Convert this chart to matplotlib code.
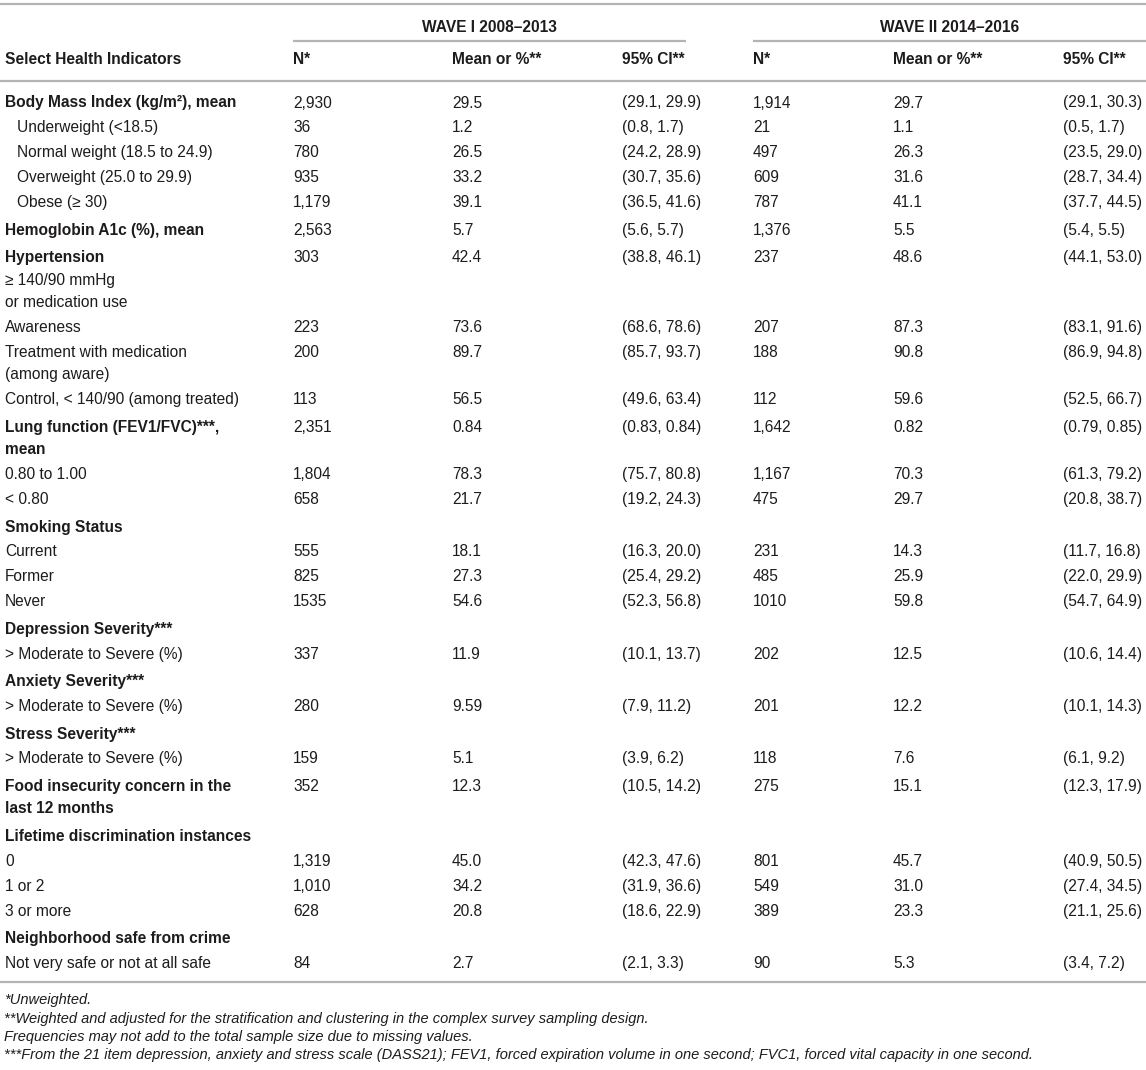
import matplotlib
matplotlib.use("Agg")
import matplotlib.pyplot as plt

plt.rcParams["font.family"] = ["Liberation Sans", "DejaVu Sans"]

# ---- data (one entry per printed line; "" = no value on that line) ----
labels = [
    "Body Mass Index (kg/m²), mean", "Underweight (<18.5)", "Normal weight (18.5 to 24.9)",
    "Overweight (25.0 to 29.9)", "Obese (≥ 30)", "Hemoglobin A1c (%), mean",
    "Hypertension", "≥ 140/90 mmHg", "or medication use", "Awareness",
    "Treatment with medication", "(among aware)", "Control, < 140/90 (among treated)",
    "Lung function (FEV1/FVC)***,", "mean", "0.80 to 1.00", "< 0.80",
    "Smoking Status", "Current", "Former", "Never",
    "Depression Severity***", "> Moderate to Severe (%)",
    "Anxiety Severity***", "> Moderate to Severe (%)",
    "Stress Severity***", "> Moderate to Severe (%)",
    "Food insecurity concern in the", "last 12 months",
    "Lifetime discrimination instances", "0", "1 or 2", "3 or more",
    "Neighborhood safe from crime", "Not very safe or not at all safe",
]
# h = bold group header, hc = bold continuation, s = indented sub item,
# p = plain item, c = plain continuation
kinds = ["h", "s", "s", "s", "s", "h", "h", "c", "c", "p", "p", "c", "p",
         "h", "hc", "p", "p", "h", "p", "p", "p", "h", "p", "h", "p", "h", "p",
         "h", "hc", "h", "p", "p", "p", "h", "p"]

n1 = ["2,930", "36", "780", "935", "1,179", "2,563", "303", "", "", "223", "200", "", "113",
      "2,351", "", "1,804", "658", "", "555", "825", "1535", "", "337", "", "280", "", "159",
      "352", "", "", "1,319", "1,010", "628", "", "84"]
m1 = ["29.5", "1.2", "26.5", "33.2", "39.1", "5.7", "42.4", "", "", "73.6", "89.7", "", "56.5",
      "0.84", "", "78.3", "21.7", "", "18.1", "27.3", "54.6", "", "11.9", "", "9.59", "", "5.1",
      "12.3", "", "", "45.0", "34.2", "20.8", "", "2.7"]
ci1 = ["(29.1, 29.9)", "(0.8, 1.7)", "(24.2, 28.9)", "(30.7, 35.6)", "(36.5, 41.6)", "(5.6, 5.7)",
       "(38.8, 46.1)", "", "", "(68.6, 78.6)", "(85.7, 93.7)", "", "(49.6, 63.4)",
       "(0.83, 0.84)", "", "(75.7, 80.8)", "(19.2, 24.3)", "", "(16.3, 20.0)", "(25.4, 29.2)",
       "(52.3, 56.8)", "", "(10.1, 13.7)", "", "(7.9, 11.2)", "", "(3.9, 6.2)",
       "(10.5, 14.2)", "", "", "(42.3, 47.6)", "(31.9, 36.6)", "(18.6, 22.9)", "", "(2.1, 3.3)"]
n2 = ["1,914", "21", "497", "609", "787", "1,376", "237", "", "", "207", "188", "", "112",
      "1,642", "", "1,167", "475", "", "231", "485", "1010", "", "202", "", "201", "", "118",
      "275", "", "", "801", "549", "389", "", "90"]
m2 = ["29.7", "1.1", "26.3", "31.6", "41.1", "5.5", "48.6", "", "", "87.3", "90.8", "", "59.6",
      "0.82", "", "70.3", "29.7", "", "14.3", "25.9", "59.8", "", "12.5", "", "12.2", "", "7.6",
      "15.1", "", "", "45.7", "31.0", "23.3", "", "5.3"]
ci2 = ["(29.1, 30.3)", "(0.5, 1.7)", "(23.5, 29.0)", "(28.7, 34.4)", "(37.7, 44.5)", "(5.4, 5.5)",
       "(44.1, 53.0)", "", "", "(83.1, 91.6)", "(86.9, 94.8)", "", "(52.5, 66.7)",
       "(0.79, 0.85)", "", "(61.3, 79.2)", "(20.8, 38.7)", "", "(11.7, 16.8)", "(22.0, 29.9)",
       "(54.7, 64.9)", "", "(10.6, 14.4)", "", "(10.1, 14.3)", "", "(6.1, 9.2)",
       "(12.3, 17.9)", "", "", "(40.9, 50.5)", "(27.4, 34.5)", "(21.1, 25.6)", "", "(3.4, 7.2)"]

waves = ["WAVE I 2008–2013", "WAVE II 2014–2016"]
col_heads = ["N*", "Mean or %**", "95% CI**"]
first_head = "Select Health Indicators"
footnotes = [
    "*Unweighted.",
    "**Weighted and adjusted for the stratification and clustering in the complex survey sampling design.",
    "Frequencies may not add to the total sample size due to missing values.",
    "***From the 21 item depression, anxiety and stress scale (DASS21); FEV1, forced expiration volume in one second; FVC1, forced vital capacity in one second.",
]

# ---- layout (pixel units) ----
W, H = 1146, 1070
TXT = "#1e1b1c"
RULE = "#b4b4b4"
FS = 11.2
col_x = [[293, 452, 622], [753, 893, 1063]]
wave_span = [(293, 686), (753, 1146)]

fig = plt.figure(figsize=(W / 100, H / 100), dpi=100)
ax = fig.add_axes([0, 0, 1, 1])
ax.set_xlim(0, W)
ax.set_ylim(H, 0)
ax.axis("off")

# rules
ax.plot([0, W], [4, 4], color=RULE, lw=1.6, solid_capstyle="butt")
for x0, x1 in wave_span:
    ax.plot([x0, x1], [40.5, 40.5], color=RULE, lw=1.6, solid_capstyle="butt")
ax.plot([0, W], [81, 81], color=RULE, lw=1.6, solid_capstyle="butt")
ax.plot([0, W], [982, 982], color=RULE, lw=1.6, solid_capstyle="butt")

# header
for (x0, x1), w in zip(wave_span, waves):
    ax.text((x0 + x1) / 2, 28, w, ha="center", va="center", fontsize=FS,
            fontweight="bold", color=TXT)
ax.text(5, 60, first_head, ha="left", va="center", fontsize=FS, fontweight="bold", color=TXT)
for xs in col_x:
    for x, h in zip(xs, col_heads):
        ax.text(x, 60, h, ha="left", va="center", fontsize=FS, fontweight="bold", color=TXT)

# body
y = 103
for i, (lab, k) in enumerate(zip(labels, kinds)):
    if i > 0:
        if k in ("c", "hc"):
            y += 22.5
        elif k == "h":
            y += 27.5
        else:
            y += 24.9
    bold = k in ("h", "hc")
    x = 17 if k == "s" else 5
    ax.text(x, y, lab, ha="left", va="center", fontsize=FS,
            fontweight="bold" if bold else "normal", color=TXT)
    for xs, vals in zip(col_x, [(n1, m1, ci1), (n2, m2, ci2)]):
        for cx, v in zip(xs, vals):
            if v[i]:
                ax.text(cx, y, v[i], ha="left", va="center", fontsize=FS, color=TXT)

# footnotes
for j, f in enumerate(footnotes):
    ax.text(4, 1000 + j * 18.5, f, ha="left", va="center", fontsize=10.5,
            style="italic", color=TXT)

fig.savefig("out.png", dpi=100)
